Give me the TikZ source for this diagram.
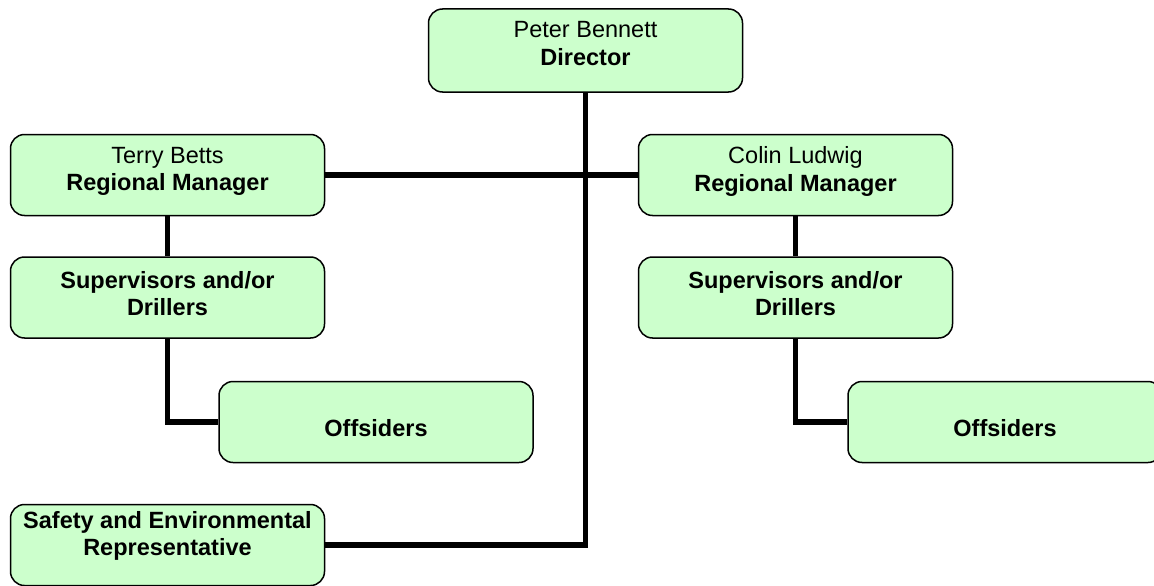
\documentclass[tikz,border=0pt]{standalone}
\usepackage{fontspec}
\setmainfont{Liberation Sans}
\usepackage{tikz}
\definecolor{boxgreen}{HTML}{CCFFCC}
\tikzstyle{box} = [rectangle, rounded corners=14pt, draw=black, line width=1.5pt, fill=boxgreen, text centered, align=center, minimum width=314pt, minimum height=81pt, font=\fontsize{23.5}{27.5}\selectfont]
\tikzstyle{link} = [line width=5.5pt, black]

\begin{document}
\begin{tikzpicture}[x=1pt,y=-1pt]

\useasboundingbox (0,0) rectangle (1154,586);
\clip (0,0) rectangle (1154,586);

\node (dir) [box, minimum height=83pt, text depth=14pt] at (585.5,50.5) {Peter Bennett\\\textbf{Director}};
\node (rm1) [box, text depth=12pt] at (167.5,175) {Terry Betts\\\textbf{Regional Manager}};
\node (rm2) [box, text depth=12pt] at (795.5,175) {Colin Ludwig\\\textbf{Regional Manager}};
\node (sup1) [box, text depth=8pt] at (167.5,297.5) {\textbf{Supervisors and/or}\\\textbf{Drillers}};
\node (sup2) [box, text depth=8pt] at (795.5,297.5) {\textbf{Supervisors and/or}\\\textbf{Drillers}};
\node (off1) [box, text height=29pt] at (376,422) {\textbf{Offsiders}};
\node (off2) [box, text height=29pt] at (1005,422) {\textbf{Offsiders}};
\node (safe) [box, text depth=23pt] at (167.5,545) {\textbf{Safety and Environmental}\\\textbf{Representative}};

\draw [link] (dir.south) |- (safe.east);
\draw [link] (rm1.east) -- (rm2.west);
\draw [link] (rm1) -- (sup1);
\draw [link] (rm2) -- (sup2);
\draw [link] (sup1.south) |- (off1.west);
\draw [link] (sup2.south) |- (off2.west);

\end{tikzpicture}
\end{document}
